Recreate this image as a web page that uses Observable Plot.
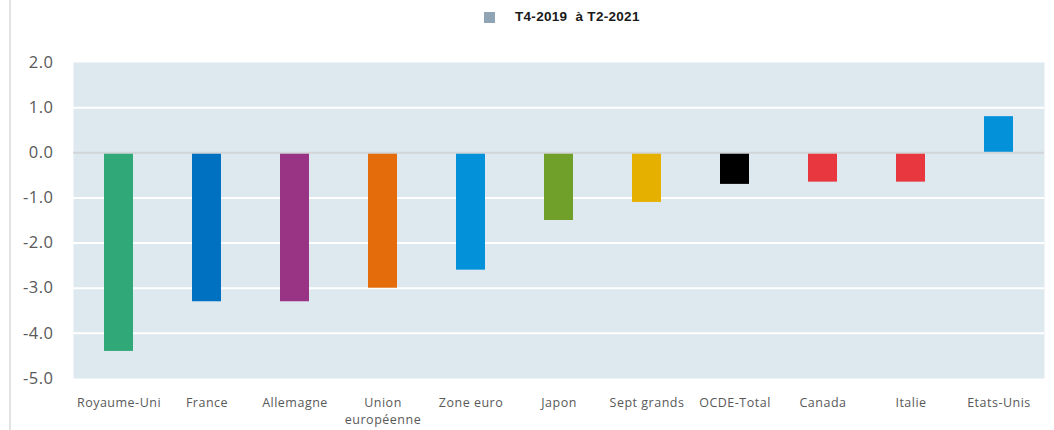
<!DOCTYPE html>
<html>
<head>
<meta charset="utf-8">
<script src="https://cdn.jsdelivr.net/npm/d3@7"></script>
<script src="https://cdn.jsdelivr.net/npm/@observablehq/plot@0.6"></script>
<style>
  body { margin: 0; background: #fff; }
  #wrap { position: relative; width: 1054px; height: 430px; overflow: hidden; }
  #border { position: absolute; left: 9px; top: 0; width: 2px; height: 430px; background: #e3e3e3; }
  #legend { position: absolute; left: 0; top: 0; width: 1054px; height: 40px; }
  #legend .sw { position: absolute; left: 484px; top: 12px; width: 11px; height: 11px; background: #8fa4b4; }
  #legend .lb { position: absolute; left: 515px; top: 9px; font: bold 13.5px "Liberation Sans", Arial, sans-serif; letter-spacing: 0.3px; color: #1a1a1a; white-space: pre; }
  #chart { position: absolute; left: 0; top: 40px; }
  #chart svg text { letter-spacing: 0.5px; }
</style>
</head>
<body>
<div id="wrap">
  <div id="border"></div>
  <div id="legend"><div class="sw"></div><div class="lb">T4-2019  à T2-2021</div></div>
  <div id="chart"></div>
</div>
<script>
const countries = ["Royaume-Uni", "France", "Allemagne", "Union\neuropéenne", "Zone euro", "Japon", "Sept grands", "OCDE-Total", "Canada", "Italie", "Etats-Unis"];
const values = [-4.4, -3.3, -3.3, -3.0, -2.6, -1.5, -1.1, -0.7, -0.65, -0.65, 0.8];
const colors = ["#31a877", "#0070c0", "#993384", "#e46c0a", "#0391d9", "#71a02a", "#e6b000", "#000000", "#e8373f", "#e8373f", "#0391d9"];
const yTicks = [2, 1, 0, -1, -2, -3, -4, -5];

const data = countries.map((c, i) => ({country: c, value: values[i], color: colors[i]}));

const chart = Plot.plot({
  width: 1054,
  height: 390,
  marginLeft: 73,
  marginRight: 10,
  marginTop: 22,
  marginBottom: 52,
  x: {domain: countries, paddingInner: 0.67, paddingOuter: 0.335, label: null},
  y: {domain: [-5, 2], label: null},
  style: {background: "transparent", overflow: "visible"},
  marks: [
    Plot.frame({fill: "#dde8ef", stroke: null}),
    Plot.ruleY(yTicks.filter(d => d !== 0 && d !== 2 && d !== -5), {stroke: "#ffffff", strokeWidth: 2}),
    Plot.barY(data, {x: "country", y: "value", fill: "color"}),
    Plot.ruleY([0], {stroke: "#d2d6d9", strokeWidth: 2}),
    Plot.axisY({ticks: yTicks, tickSize: 0, tickPadding: 20, tickFormat: d => d.toFixed(1), fontSize: 16.5, fill: "#595959", fontFamily: "Open Sans", label: null}),
    Plot.axisX({tickSize: 0, tickPadding: 16, fontSize: 12.5, fill: "#595959", fontFamily: "Open Sans", lineHeight: 1.4, label: null})
  ]
});
document.getElementById("chart").appendChild(chart);
</script>
</body>
</html>
